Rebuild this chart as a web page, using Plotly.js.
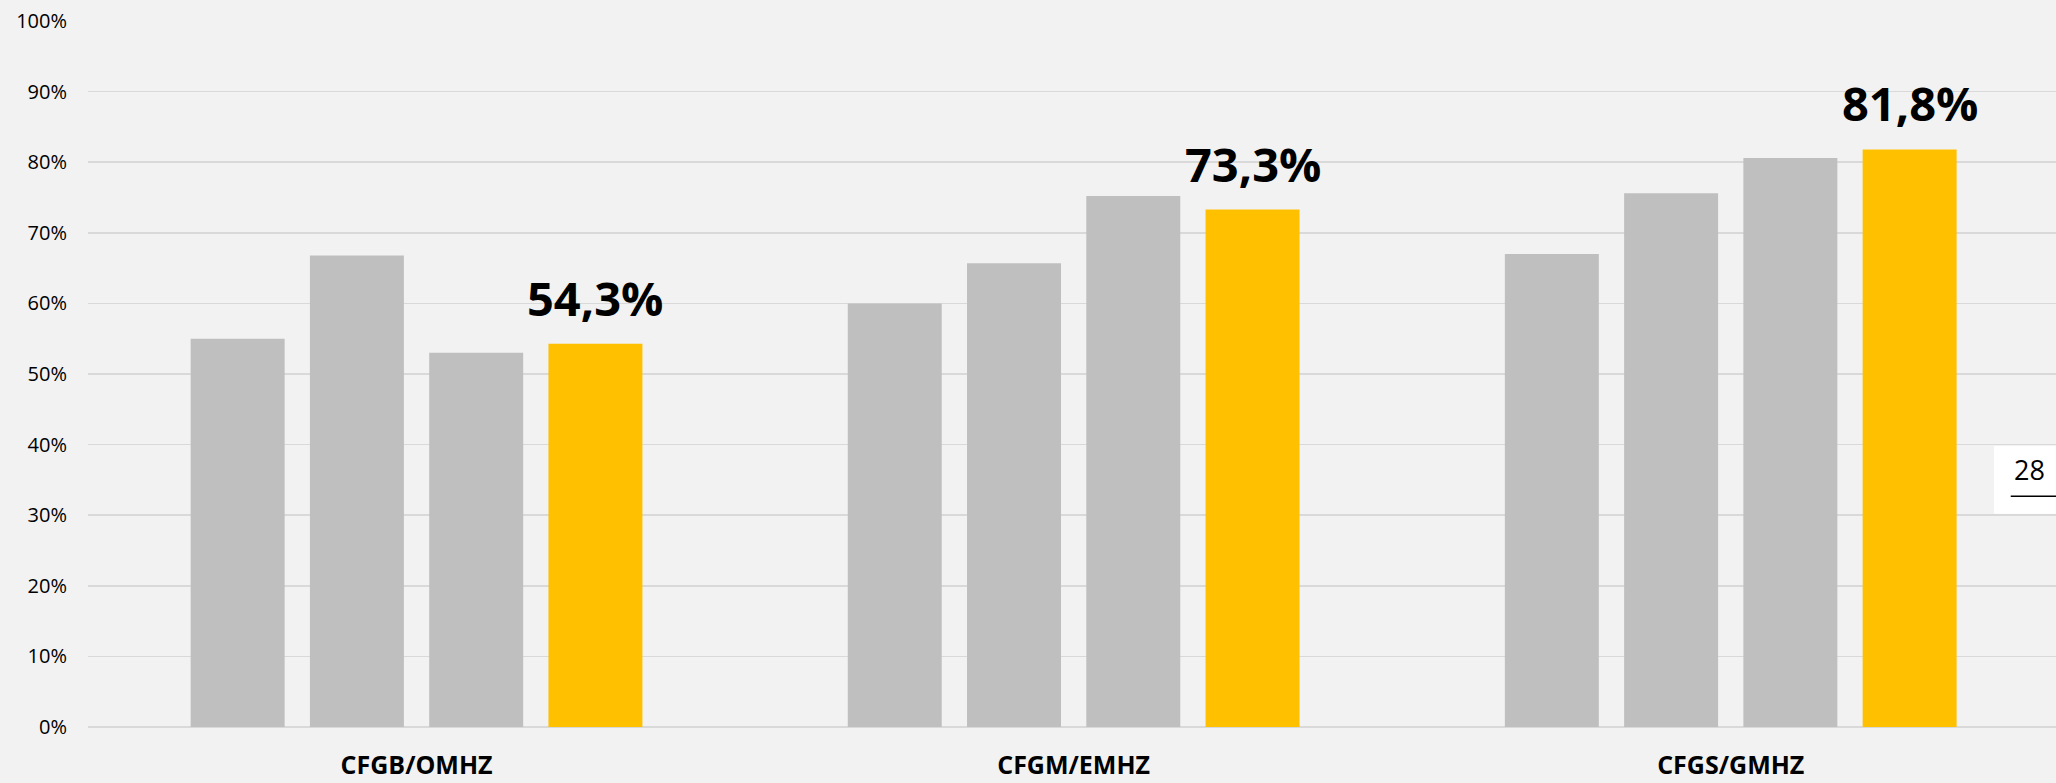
<!DOCTYPE html>
<html>
<head>
<meta charset="utf-8">
<script src="https://cdn.plot.ly/plotly-3.0.1.min.js"></script>
<style>html,body{margin:0;padding:0;background:#f2f2f2;}#chart{width:2056px;height:783px;}</style>
</head>
<body>
<div id="chart"></div>
<script>
var categories = ["CFGB/OMHZ", "CFGM/EMHZ", "CFGS/GMHZ"];
var series1 = [55.0, 60.0, 67.0];
var series2 = [66.8, 65.7, 75.6];
var series3 = [53.0, 75.2, 80.6];
var series4 = [54.3, 73.3, 81.8];
var series4Labels = ["54,3%", "73,3%", "81,8%"];
var yTickVals = [0, 10, 20, 30, 40, 50, 60, 70, 80, 90, 100];
var yTickText = ["0%", "10%", "20%", "30%", "40%", "50%", "60%", "70%", "80%", "90%", "100%"];
var pageNumber = "28";

var W = 2056, H = 783;
var margin = {l: 88, r: 0, t: 21, b: 56};
var xRange = [-0.5, 2.495];
var bargap = 0.274, bargroupgap = 0.212;
var gray = "#bfbfbf", yellow = "#ffc000";

function barTrace(vals, color) {
  return {type: "bar", x: categories, y: vals, marker: {color: color, line: {width: 0}},
          hoverinfo: "skip", showlegend: false};
}
var data = [barTrace(series1, gray), barTrace(series2, gray), barTrace(series3, gray), barTrace(series4, yellow)];

// label offset derived from the bar layout
var plotW = W - margin.l - margin.r;
var catPx = plotW / (xRange[1] - xRange[0]);
var slotPx = catPx * (1 - bargap) / 4;
var annotations = categories.map(function (c, i) {
  return {x: c, y: series4[i], xref: "x", yref: "y", text: "<b>" + series4Labels[i] + "</b>",
          showarrow: false, xshift: 1.5 * slotPx, yanchor: "bottom", yshift: 12,
          font: {family: "Open Sans", size: 47, color: "#000000"}};
});
annotations.push({x: 0.9865, y: 0.35, xref: "paper", yref: "paper", text: pageNumber, showarrow: false,
                  xanchor: "center", yanchor: "middle", yshift: 10,
                  font: {family: "Open Sans", size: 27, color: "#000000"}});

var layout = {
  width: W, height: H, margin: margin,
  paper_bgcolor: "#f2f2f2", plot_bgcolor: "#f2f2f2",
  barmode: "group", bargap: bargap, bargroupgap: bargroupgap,
  xaxis: {type: "category", range: xRange, showgrid: false, zeroline: false, showline: false, ticks: "",
          tickfont: {family: "Open Sans", size: 25, color: "#000000", weight: "bold"},
          ticklabelstandoff: 21, fixedrange: true},
  yaxis: {range: [0, 100], tickvals: yTickVals, ticktext: yTickText, showgrid: true,
          gridcolor: "#d9d9d9", gridwidth: 1.5, zeroline: true, zerolinecolor: "#d9d9d9", zerolinewidth: 2,
          showline: false, ticks: "", tickfont: {family: "Open Sans", size: 20, color: "#000000"},
          ticklabelstandoff: 20, fixedrange: true},
  shapes: [
    {type: "rect", xref: "paper", yref: "paper", x0: 0.9685, x1: 1.0, y0: 0.302, y1: 0.398,
     fillcolor: "#ffffff", line: {width: 0}, layer: "above"},
    {type: "line", xref: "paper", yref: "paper", x0: 0.977, x1: 1.0, y0: 0.327, y1: 0.327,
     line: {color: "#000000", width: 1.5}, layer: "above"}
  ],
  annotations: annotations
};
Plotly.newPlot("chart", data, layout, {displayModeBar: false, staticPlot: true});
</script>
</body>
</html>
